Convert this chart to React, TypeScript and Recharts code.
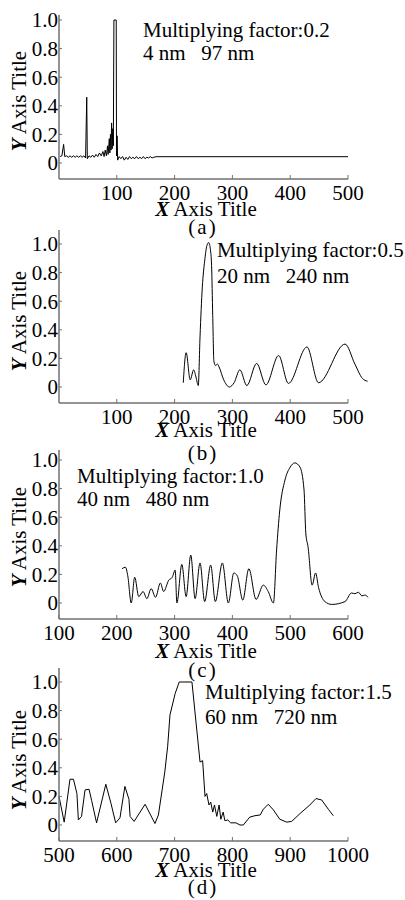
import React from 'react';
import { LineChart, Line, XAxis, YAxis, ReferenceLine } from 'recharts';

const FONT = "'Liberation Serif', Tinos, 'Times New Roman', Times, 'DejaVu Serif', 'Noto Serif', serif";

// ---- Panel (a) ----
const aX = [2, 5, 8, 10, 13, 16, 19, 22, 25, 28, 31, 34, 37, 40, 43, 46, 48, 49, 52, 55, 58, 61, 64, 67, 70, 73, 76, 78, 80, 82, 84, 85, 87, 88, 89, 90, 91, 92, 93, 94, 95, 99, 99.5, 100.5, 101.5, 104, 107, 110, 113, 116, 119, 122, 125, 128, 131, 134, 137, 140, 143, 146, 149, 152, 155, 158, 161, 164, 168, 500];
const aY = [0.045, 0.05, 0.13, 0.045, 0.05, 0.04, 0.05, 0.04, 0.05, 0.04, 0.05, 0.04, 0.05, 0.04, 0.05, 0.035, 0.46, 0.03, 0.05, 0.04, 0.055, 0.04, 0.06, 0.045, 0.07, 0.05, 0.08, 0.045, 0.09, 0.05, 0.12, 0.06, 0.17, 0.07, 0.2, 0.09, 0.28, 0.1, 0.24, 0.12, 1.0, 1.0, 0.05, 0.19, 0.02, 0.045, 0.03, 0.045, 0.02, 0.04, 0.025, 0.045, 0.03, 0.04, 0.03, 0.045, 0.03, 0.04, 0.03, 0.045, 0.03, 0.04, 0.035, 0.045, 0.035, 0.04, 0.044, 0.044];
const aXTicks = [100, 200, 300, 400, 500];

// ---- Panel (b) ----
const bX = [215, 220, 227, 233, 237, 241, 244, 248, 252, 256, 259, 262, 264, 266, 268, 271, 274, 277, 285, 295, 303, 313, 325, 342, 358, 380, 397, 429, 449, 495, 512, 525, 534];
const bY = [0.03, 0.24, 0.05, 0.12, 0.07, 0.01, 0.35, 0.7, 0.88, 0.99, 1.01, 0.96, 0.85, 0.5, 0.18, 0.15, 0.16, 0.14, 0.05, 0.0, 0.03, 0.12, 0.01, 0.165, 0.015, 0.22, 0.025, 0.28, 0.03, 0.3, 0.16, 0.06, 0.04];
const bXTicks = [100, 200, 300, 400, 500];

// ---- Panel (c) ----
const cX = [209, 215, 219, 225, 231, 238, 245.5, 252, 259.5, 267, 275.5, 281, 290, 296, 301, 304, 312.5, 320, 328, 335.5, 344, 352, 362.5, 370.5, 382.7, 393, 402.5, 408.5, 418, 428.5, 441, 453.5, 462, 471, 476.5, 482, 491, 500, 508, 517, 524, 527, 531, 538, 544, 549, 560, 572, 595, 606, 612, 618, 624, 629, 635];
const cY = [0.24, 0.25, 0.19, 0.0, 0.18, 0.045, 0.08, 0.03, 0.1, 0.04, 0.14, 0.08, 0.16, 0.18, 0.23, 0.0, 0.27, 0.045, 0.335, 0.03, 0.28, 0.01, 0.265, 0.01, 0.28, 0.0, 0.21, 0.19, 0.02, 0.24, 0.025, 0.125, 0.08, 0.0, 0.37, 0.65, 0.86, 0.95, 0.98, 0.95, 0.79, 0.49, 0.39, 0.125, 0.21, 0.11, 0.01, -0.01, 0.01, 0.07, 0.065, 0.075, 0.05, 0.055, 0.04];
const cXTicks = [100, 200, 300, 400, 500, 600];

// ---- Panel (d) ----
const dX = [500, 509, 519, 525, 531, 533.5, 539, 545, 552, 556.5, 565, 581, 590, 598, 605.5, 614, 621, 623, 630, 649, 666, 672, 683, 688, 692, 701, 708, 730, 744, 748.5, 752.6, 755.5, 759.5, 762.5, 766, 769, 773, 777, 780, 784, 787, 792, 797, 806, 813, 819, 830, 839, 848, 853.5, 862, 871, 882, 894, 902.6, 917, 934, 944.6, 954.5, 966, 974.6];
const dY = [0.2, 0.02, 0.32, 0.32, 0.22, 0.035, 0.06, 0.245, 0.25, 0.17, 0.015, 0.285, 0.15, 0.015, 0.05, 0.27, 0.18, 0.06, 0.025, 0.145, 0.01, 0.07, 0.37, 0.55, 0.77, 0.92, 1.0, 1.0, 0.44, 0.45, 0.2, 0.22, 0.14, 0.16, 0.09, 0.14, 0.06, 0.14, 0.04, 0.09, 0.03, 0.035, 0.015, 0.015, 0.0, 0.0, 0.055, 0.065, 0.07, 0.11, 0.145, 0.105, 0.04, 0.02, 0.025, 0.08, 0.14, 0.185, 0.175, 0.11, 0.065];
const dXTicks = [500, 600, 700, 800, 900, 1000];

const yTicks = [0, 0.2, 0.4, 0.6, 0.8, 1.0];

const notes = [
  ['Multiplying factor:0.2', '4 nm   97 nm'],
  ['Multiplying factor:0.5', '20 nm   240 nm'],
  ['Multiplying factor:1.0', '40 nm   480 nm'],
  ['Multiplying factor:1.5', '60 nm   720 nm'],
];
const captions = ['(a)', '(b)', '(c)', '(d)'];

const AXIS = '#707070';
const H = 260;
const W = 405;
const FS = 21;
const textStyle: React.CSSProperties = { fontFamily: FONT, fontSize: FS, fill: '#000' };

function XTick(props: any) {
  const { x, y, payload } = props;
  return (
    <g>
      <line x1={x} x2={x} y1={y} y2={y - 4} stroke={AXIS} strokeWidth={1} />
      <text x={x} y={y + 21} textAnchor="middle" style={textStyle}>
        {payload.value}
      </text>
    </g>
  );
}

function YTick(props: any) {
  const { x, y, payload } = props;
  const v = payload.value as number;
  return (
    <g>
      <line x1={x} x2={x + 3} y1={y} y2={y} stroke={AXIS} strokeWidth={1} />
      <text x={x - 1} y={y} dy="0.35em" textAnchor="end" style={textStyle}>
        {v === 0 ? '0' : v.toFixed(1)}
      </text>
    </g>
  );
}

type PanelProps = {
  top: number;
  plotTop: number;
  plotBottom: number;
  plotRight: number;
  xDomain: [number, number];
  yDomain: [number, number];
  xTicks: number[];
  xs: number[];
  ys: number[];
  curve: 'linear' | 'monotone';
  axisEnd?: number;
  note: string[];
  noteX: number;
  noteY1: number;
  noteY2: number;
  yTitleY: number;
  titleY: number;
  caption: string;
  captionY: number;
};

function Panel(p: PanelProps) {
  const data = p.xs.map((x, i) => ({ x, y: p.ys[i] }));
  const xAxisH = 30;
  const margin = {
    top: p.plotTop - p.top,
    right: W - p.plotRight,
    bottom: H - (p.plotBottom - p.top) - xAxisH,
    left: 0,
  };
  const l = (v: number) => v - p.top;
  return (
    <div style={{ position: 'absolute', left: 0, top: p.top, width: W, height: H }}>
      <LineChart width={W} height={H} data={data} margin={margin} style={{ overflow: 'visible' }}>
        <XAxis
          type="number"
          dataKey="x"
          domain={p.xDomain}
          ticks={p.xTicks}
          interval={0}
          height={xAxisH}
          axisLine={p.axisEnd === undefined ? { stroke: AXIS, strokeWidth: 1.5 } : false}
          tickLine={false}
          tickSize={0}
          tickMargin={0}
          tick={<XTick />}
        />
        <YAxis
          type="number"
          domain={p.yDomain}
          ticks={yTicks}
          interval={0}
          width={59}
          axisLine={{ stroke: AXIS, strokeWidth: 1.5 }}
          tickLine={false}
          tickSize={0}
          tickMargin={0}
          tick={<YTick />}
        />
        {p.axisEnd !== undefined && (
          <ReferenceLine
            segment={[
              { x: p.xDomain[0], y: p.yDomain[0] },
              { x: p.axisEnd, y: p.yDomain[0] },
            ]}
            stroke={AXIS}
            strokeWidth={1.5}
            ifOverflow="visible"
          />
        )}
        <Line
          type={p.curve}
          dataKey="y"
          stroke="#000"
          strokeWidth={1}
          dot={false}
          isAnimationActive={false}
        />
      </LineChart>
      <svg
        width={W}
        height={H}
        style={{ position: 'absolute', left: 0, top: 0, pointerEvents: 'none', overflow: 'visible' }}
      >
        <text
          x={19}
          y={l(p.yTitleY)}
          transform={`rotate(-90 19 ${l(p.yTitleY)})`}
          textAnchor="middle"
          dominantBaseline="central"
          style={textStyle}
        >
          <tspan fontStyle="italic" fontWeight="bold">Y</tspan>
          <tspan> Axis Title</tspan>
        </text>
        <text x={206} y={l(p.titleY)} textAnchor="middle" style={textStyle}>
          <tspan fontStyle="italic" fontWeight="bold">X</tspan>
          <tspan> Axis Title</tspan>
        </text>
        <text x={203} y={l(p.captionY)} textAnchor="middle" letterSpacing={2} style={textStyle}>
          {p.caption}
        </text>
        <text x={p.noteX} y={l(p.noteY1)} style={textStyle}>{p.note[0]}</text>
        <text x={p.noteX} y={l(p.noteY2)} style={{ ...textStyle, whiteSpace: 'pre' }}>{p.note[1]}</text>
      </svg>
    </div>
  );
}

export default function App() {
  return (
    <div style={{ position: 'absolute', left: 0, top: 0, width: W, height: 900, background: '#fff', overflow: 'hidden' }}>
      <Panel
        top={0}
        plotTop={15}
        plotBottom={179}
        plotRight={348}
        xDomain={[0, 500]}
        yDomain={[-0.112, 1.035]}
        xTicks={aXTicks}
        xs={aX}
        ys={aY}
        curve="linear"
        note={notes[0]}
        noteX={143}
        noteY1={37}
        noteY2={60}
        yTitleY={101}
        titleY={216}
        caption={captions[0]}
        captionY={234}
      />
      <Panel
        top={220}
        plotTop={230}
        plotBottom={403}
        plotRight={368.2}
        xDomain={[0, 535]}
        yDomain={[-0.112, 1.098]}
        xTicks={bXTicks}
        xs={bX}
        ys={bY}
        curve="monotone"
        axisEnd={500}
        note={notes[1]}
        noteX={217}
        noteY1={257}
        noteY2={283}
        yTitleY={321}
        titleY={437}
        caption={captions[1]}
        captionY={460}
      />
      <Panel
        top={440}
        plotTop={450}
        plotBottom={619}
        plotRight={368.2}
        xDomain={[100, 635]}
        yDomain={[-0.112, 1.07]}
        xTicks={cXTicks}
        xs={cX}
        ys={cY}
        curve="monotone"
        axisEnd={600}
        note={notes[2]}
        noteX={77}
        noteY1={483}
        noteY2={506}
        yTitleY={537}
        titleY={658}
        caption={captions[2]}
        captionY={677}
      />
      <Panel
        top={640}
        plotTop={668}
        plotBottom={841}
        plotRight={348}
        xDomain={[500, 1000]}
        yDomain={[-0.112, 1.098]}
        xTicks={dXTicks}
        xs={dX}
        ys={dY}
        curve="linear"
        note={notes[3]}
        noteX={205}
        noteY1={699}
        noteY2={724}
        yTitleY={760}
        titleY={877}
        caption={captions[3]}
        captionY={894}
      />
    </div>
  );
}
